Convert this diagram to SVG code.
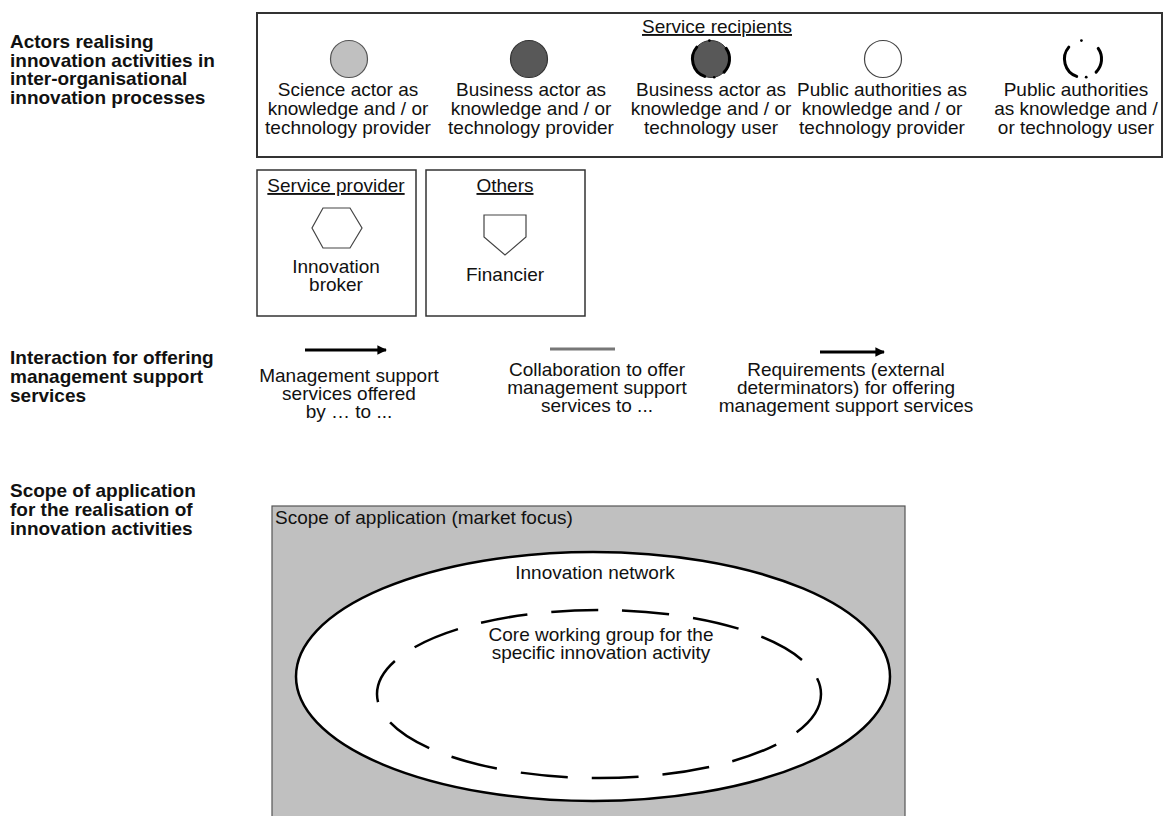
<svg xmlns="http://www.w3.org/2000/svg" width="1166" height="816" viewBox="0 0 1166 816">
  <defs>
    <style>
      text { font-family: "Liberation Sans", Arial, sans-serif; fill: #111; }
      .lbl { font-size: 19px; font-weight: bold; }
      .t { font-size: 19px; text-anchor: middle; }
      .tl { font-size: 19px; }
      .u { text-decoration: underline; }
      .box { fill: none; stroke: #333; stroke-width: 1.5; }
      .arc { fill: none; stroke: #000; stroke-width: 3; stroke-linecap: round; }
      .flow { stroke: #000; stroke-width: 3; marker-end: url(#arrow); }
    </style>
    <marker id="arrow" viewBox="0 0 10 10" refX="9" refY="5" markerWidth="3.6" markerHeight="3.2" orient="auto" markerUnits="strokeWidth">
      <path d="M0,0 L10,5 L0,10 Z" fill="#000"/>
    </marker>
  </defs>

  <rect width="1166" height="816" fill="#fff"/>

  <!-- row headings -->
  <g id="section-labels">
    <text class="lbl" x="10" y="48"><tspan x="10">Actors realising</tspan><tspan x="10" dy="18.5">innovation activities in</tspan><tspan x="10" dy="18.5">inter-organisational</tspan><tspan x="10" dy="18.5">innovation processes</tspan></text>
    <text class="lbl" x="10" y="364"><tspan x="10">Interaction for offering</tspan><tspan x="10" dy="19">management support</tspan><tspan x="10" dy="19">services</tspan></text>
    <text class="lbl" x="10" y="497"><tspan x="10">Scope of application</tspan><tspan x="10" dy="19">for the realisation of</tspan><tspan x="10" dy="19">innovation activities</tspan></text>
  </g>

  <!-- service recipients frame -->
  <g id="service-recipients">
    <rect x="257" y="13" width="905" height="144" fill="none" stroke="#333" stroke-width="2"/>
    <text class="t u" x="717" y="33">Service recipients</text>
  </g>

  <g id="science-provider">
    <circle cx="349" cy="59" r="18.5" fill="#c0c0c0" stroke="#555" stroke-width="1.2"/>
    <text class="t" y="96"><tspan x="348">Science actor as</tspan><tspan x="348" dy="19">knowledge and / or</tspan><tspan x="348" dy="19">technology provider</tspan></text>
  </g>

  <g id="business-provider">
    <circle cx="529" cy="59" r="18.5" fill="#585858" stroke="#333" stroke-width="1.2"/>
    <text class="t" y="96"><tspan x="531">Business actor as</tspan><tspan x="531" dy="19">knowledge and / or</tspan><tspan x="531" dy="19">technology provider</tspan></text>
  </g>

  <g id="business-user">
    <circle cx="711" cy="59" r="18.5" fill="#585858" stroke="#333" stroke-width="1"/>
    <path class="arc" d="M696.8,47.1 A18.5,18.5 0 0 0 704.7,76.4"/>
    <path class="arc" d="M726.2,48.4 A18.5,18.5 0 0 1 724.1,72.1"/>
    <circle cx="709.4" cy="40.6" r="1.3" fill="#000"/>
    <circle cx="714.2" cy="77.2" r="1.3" fill="#000"/>
    <text class="t" y="96"><tspan x="711">Business actor as</tspan><tspan x="711" dy="19">knowledge and / or</tspan><tspan x="711" dy="19">technology user</tspan></text>
  </g>

  <g id="public-provider">
    <circle cx="883" cy="59" r="18.5" fill="#fff" stroke="#444" stroke-width="1.2"/>
    <text class="t" y="96"><tspan x="882">Public authorities as</tspan><tspan x="882" dy="19">knowledge and / or</tspan><tspan x="882" dy="19">technology provider</tspan></text>
  </g>

  <g id="public-user">
    <path class="arc" d="M1068.8,47.1 A18.5,18.5 0 0 0 1076.7,76.4"/>
    <path class="arc" d="M1098.2,48.4 A18.5,18.5 0 0 1 1096.1,72.1"/>
    <circle cx="1081.4" cy="40.6" r="1.4" fill="#000"/>
    <circle cx="1086.2" cy="77.2" r="1.4" fill="#000"/>
    <text class="t" y="96"><tspan x="1076">Public authorities</tspan><tspan x="1076" dy="19">as knowledge and /</tspan><tspan x="1076" dy="19">or technology user</tspan></text>
  </g>

  <!-- service provider -->
  <g id="innovation-broker">
    <rect class="box" x="257" y="170" width="159" height="146"/>
    <text class="t u" x="336" y="192">Service provider</text>
    <polygon points="323,208 350,208 362,228 350,248 323,248 312,228" fill="#fff" stroke="#444" stroke-width="1.2"/>
    <text class="t" y="273"><tspan x="336">Innovation</tspan><tspan x="336" dy="18">broker</tspan></text>
  </g>

  <!-- others -->
  <g id="financier">
    <rect class="box" x="426" y="170" width="159" height="146"/>
    <text class="t u" x="505" y="192">Others</text>
    <polygon points="484,215 526,215 526,237 505,255 484,237" fill="#fff" stroke="#444" stroke-width="1.2"/>
    <text class="t" x="505" y="281">Financier</text>
  </g>

  <!-- interaction types -->
  <g id="connectors">
    <line class="flow" x1="305" y1="350" x2="386" y2="350"/>
    <line x1="550" y1="349" x2="615" y2="349" stroke="#777" stroke-width="3"/>
    <line class="flow" x1="820" y1="352" x2="884" y2="352"/>
  </g>

  <g id="interaction-labels">
    <text class="t" y="382"><tspan x="349">Management support</tspan><tspan x="349" dy="18">services offered</tspan><tspan x="349" dy="18">by … to ...</tspan></text>
    <text class="t" y="376"><tspan x="597">Collaboration to offer</tspan><tspan x="597" dy="18">management support</tspan><tspan x="597" dy="18">services to ...</tspan></text>
    <text class="t" y="376"><tspan x="846">Requirements (external</tspan><tspan x="846" dy="18">determinators) for offering</tspan><tspan x="846" dy="18">management support services</tspan></text>
  </g>

  <!-- scope of application -->
  <g id="scope">
    <rect x="272" y="506" width="633" height="320" fill="#c0c0c0" stroke="#555" stroke-width="1.2"/>
    <text class="tl" x="275" y="524">Scope of application (market focus)</text>
  </g>

  <g id="innovation-network">
    <ellipse cx="593" cy="676.5" rx="297" ry="124.5" fill="#fff" stroke="#000" stroke-width="2.5"/>
    <text class="t" x="595" y="579">Innovation network</text>
  </g>

  <g id="core-working-group">
    <ellipse cx="599" cy="694" rx="222" ry="84" fill="none" stroke="#000" stroke-width="2.5" stroke-dasharray="47 24"/>
    <text class="t" y="641"><tspan x="601">Core working group for the</tspan><tspan x="601" dy="18">specific innovation activity</tspan></text>
  </g>
</svg>
